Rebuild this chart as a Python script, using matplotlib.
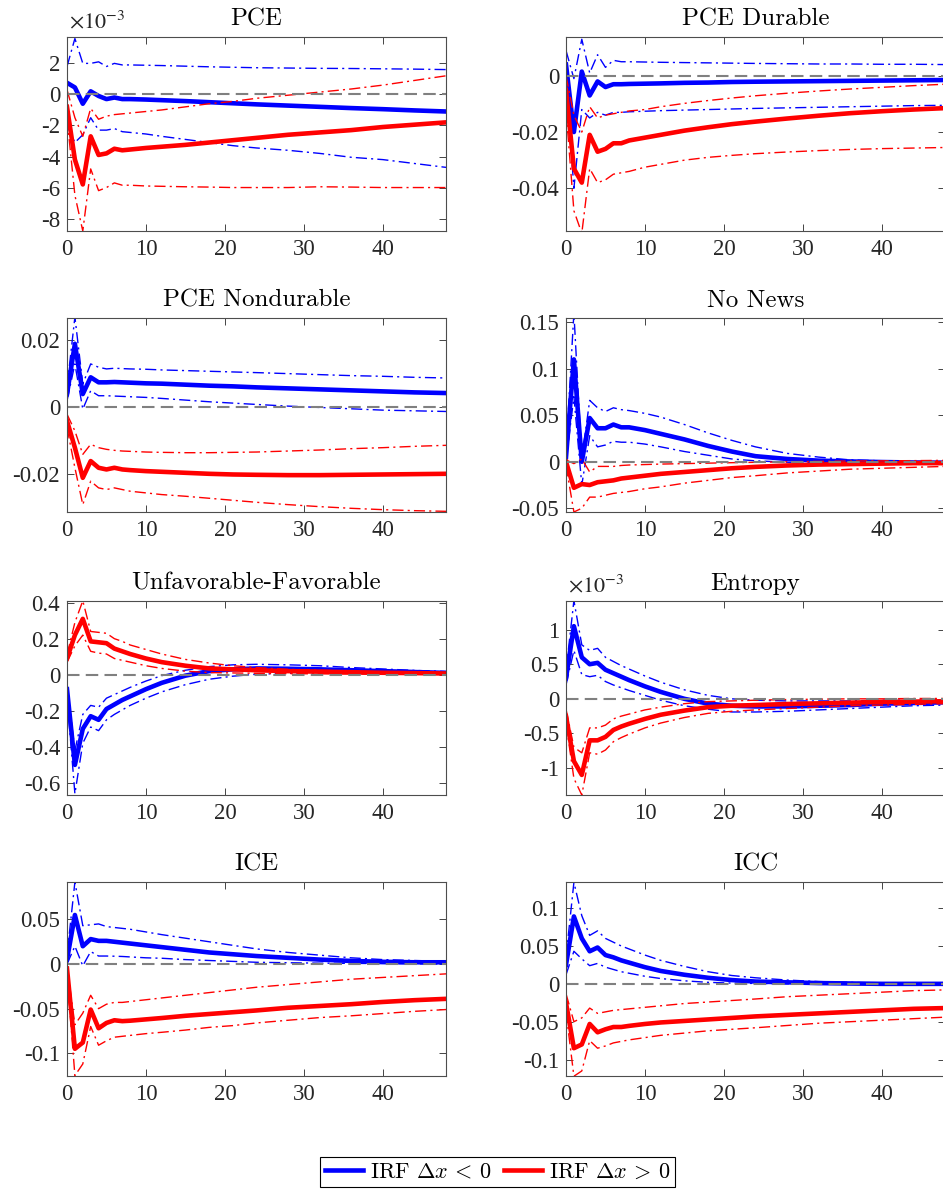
"""Impulse responses to negative and positive shocks, with confidence bands."""

import matplotlib
matplotlib.use("Agg")
import matplotlib.pyplot as plt
from matplotlib.font_manager import FontProperties
from matplotlib.lines import Line2D
from matplotlib.ticker import FuncFormatter

plt.rcParams["font.family"] = "Liberation Serif"
plt.rcParams["axes.unicode_minus"] = False
plt.rcParams["mathtext.fontset"] = "stix"

horizon = [0, 1, 2, 3, 4, 5, 6, 7, 8, 10, 12, 15, 18, 21, 24, 28, 32, 36, 40, 44, 48]

# PCE (units of 1e-3)
pce_neg = [0.75, 0.45, -0.6, 0.2, -0.1, -0.3, -0.2, -0.3, -0.3, -0.33, -0.37, -0.43, -0.5,
           -0.57, -0.64, -0.72, -0.8, -0.88, -0.95, -1.03, -1.1]
pce_neg_hi = [1.8, 3.6, 2.0, 2.0, 2.1, 1.8, 2.0, 1.9, 1.9, 1.88, 1.86, 1.82, 1.78, 1.75,
              1.72, 1.7, 1.68, 1.67, 1.65, 1.63, 1.6]
pce_neg_lo = [-2.0, -3.1, -2.6, -1.5, -2.3, -2.3, -2.2, -2.4, -2.45, -2.55, -2.7, -2.9, -3.1,
              -3.3, -3.45, -3.6, -3.8, -4.05, -4.2, -4.45, -4.7]
pce_pos = [-0.8, -4.2, -5.8, -2.7, -3.9, -3.8, -3.5, -3.6, -3.55, -3.45, -3.37, -3.25, -3.1,
           -2.95, -2.8, -2.6, -2.45, -2.3, -2.1, -1.95, -1.8]
pce_pos_hi = [0.3, -1.5, -2.7, -0.9, -1.6, -1.4, -1.3, -1.25, -1.2, -1.1, -1.0, -0.8, -0.6,
              -0.45, -0.25, -0.05, 0.15, 0.35, 0.6, 0.9, 1.2]
pce_pos_lo = [-1.5, -6.5, -8.8, -4.8, -6.2, -6.0, -5.7, -5.85, -5.85, -5.9, -5.92, -5.95,
              -5.97, -6.0, -6.0, -6.0, -5.95, -5.97, -6.0, -6.0, -6.0]

# PCE Durable
dur_neg = [0.004, -0.020, 0.0015, -0.007, -0.002, -0.004, -0.003, -0.003, -0.0029, -0.0028,
           -0.0027, -0.0025, -0.0024, -0.0022, -0.0021, -0.002, -0.0019, -0.0018, -0.0017,
           -0.0016, -0.0015]
dur_neg_hi = [0.009, -0.001, 0.013, 0.001, 0.0075, 0.003, 0.0055, 0.005, 0.005, 0.0049,
              0.0048, 0.0047, 0.0046, 0.0045, 0.0044, 0.0043, 0.0042, 0.0042, 0.0041, 0.0041,
              0.004]
dur_neg_lo = [-0.001, -0.040, -0.012, -0.015, -0.013, -0.014, -0.013, -0.013, -0.0128,
              -0.0126, -0.0124, -0.0122, -0.012, -0.0118, -0.0116, -0.0114, -0.0112, -0.011,
              -0.0108, -0.0106, -0.0105]
dur_pos = [-0.005, -0.033, -0.038, -0.021, -0.027, -0.026, -0.024, -0.024, -0.023, -0.022,
           -0.021, -0.0195, -0.0183, -0.0172, -0.0163, -0.0152, -0.0142, -0.0133, -0.0126,
           -0.012, -0.0115]
dur_pos_hi = [0.0, -0.014, -0.020, -0.011, -0.015, -0.014, -0.0135, -0.013, -0.0125, -0.012,
              -0.011, -0.0098, -0.0088, -0.0079, -0.0071, -0.0062, -0.0054, -0.0047, -0.0041,
              -0.0035, -0.003]
dur_pos_lo = [-0.012, -0.048, -0.056, -0.033, -0.038, -0.037, -0.035, -0.0345, -0.034,
              -0.0325, -0.0315, -0.030, -0.029, -0.0283, -0.0277, -0.0271, -0.0266, -0.0262,
              -0.0259, -0.0257, -0.0255]

# PCE Nondurable
nondur_neg = [0.004, 0.019, 0.004, 0.009, 0.0075, 0.0075, 0.0076, 0.0075, 0.0074, 0.0072,
              0.0071, 0.0068, 0.0065, 0.0063, 0.006, 0.0057, 0.0054, 0.0051, 0.0048, 0.0045,
              0.0043]
nondur_neg_hi = [0.006, 0.027, 0.007, 0.013, 0.012, 0.0115, 0.0117, 0.0116, 0.0115, 0.0114,
                 0.0112, 0.011, 0.0108, 0.0106, 0.0104, 0.0101, 0.0098, 0.0095, 0.0093, 0.009,
                 0.0088]
nondur_neg_lo = [0.002, 0.013, -0.0005, 0.005, 0.0035, 0.0035, 0.0034, 0.0033, 0.0032, 0.003,
                 0.0027, 0.0022, 0.0017, 0.0013, 0.0009, 0.0004, 0.0, -0.0004, -0.0008,
                 -0.001, -0.0012]
nondur_pos = [-0.004, -0.012, -0.021, -0.016, -0.018, -0.0185, -0.018, -0.0185, -0.0187,
              -0.019, -0.0192, -0.0195, -0.0198, -0.02, -0.0201, -0.0202, -0.0202, -0.0201,
              -0.02, -0.0199, -0.0198]
nondur_pos_hi = [-0.002, -0.007, -0.014, -0.011, -0.012, -0.0125, -0.0128, -0.013, -0.0131,
                 -0.0133, -0.0134, -0.0135, -0.0135, -0.0134, -0.0133, -0.013, -0.0127,
                 -0.0123, -0.012, -0.0116, -0.0113]
nondur_pos_lo = [-0.006, -0.018, -0.029, -0.022, -0.024, -0.0245, -0.024, -0.0245, -0.025,
                 -0.0255, -0.026, -0.0265, -0.0271, -0.0277, -0.0283, -0.029, -0.0296,
                 -0.0301, -0.0305, -0.0308, -0.031]

# No News
nonews_neg = [0.005, 0.11, 0.0, 0.047, 0.036, 0.036, 0.040, 0.037, 0.037, 0.034, 0.030,
              0.024, 0.017, 0.011, 0.006, 0.003, 0.0012, 0.0003, -0.0003, -0.0008, -0.001]
nonews_neg_hi = [0.01, 0.16, 0.003, 0.066, 0.058, 0.054, 0.058, 0.056, 0.055, 0.052, 0.048,
                 0.040, 0.031, 0.023, 0.016, 0.009, 0.005, 0.002, 0.001, 0.0, -0.001]
nonews_neg_lo = [0.0, 0.07, -0.025, 0.028, 0.016, 0.018, 0.022, 0.021, 0.021, 0.019, 0.016,
                 0.011, 0.007, 0.003, 0.001, -0.0005, -0.001, -0.0015, -0.002, -0.002, -0.0025]
nonews_pos = [0.0, -0.028, -0.024, -0.025, -0.022, -0.021, -0.020, -0.018, -0.017, -0.015,
              -0.013, -0.011, -0.009, -0.007, -0.0055, -0.004, -0.003, -0.0025, -0.002,
              -0.0015, -0.0015]
nonews_pos_hi = [0.002, -0.002, 0.003, -0.011, -0.005, -0.005, -0.005, -0.004, -0.0035,
                 -0.003, -0.0025, -0.002, -0.0015, -0.001, -0.0006, 0.0, 0.0004, 0.0008,
                 0.001, 0.0012, 0.0015]
nonews_pos_lo = [-0.004, -0.054, -0.050, -0.038, -0.038, -0.036, -0.034, -0.033, -0.032,
                 -0.029, -0.027, -0.023, -0.020, -0.017, -0.015, -0.012, -0.010, -0.008,
                 -0.007, -0.006, -0.005]

# Unfavorable-Favorable
unfav_neg = [-0.08, -0.50, -0.30, -0.23, -0.25, -0.19, -0.165, -0.14, -0.12, -0.08, -0.045,
             -0.005, 0.02, 0.03, 0.035, 0.033, 0.030, 0.025, 0.02, 0.015, 0.01]
unfav_neg_hi = [-0.06, -0.42, -0.22, -0.17, -0.18, -0.13, -0.11, -0.09, -0.07, -0.035,
                -0.005, 0.025, 0.045, 0.055, 0.058, 0.055, 0.05, 0.04, 0.032, 0.024, 0.018]
unfav_neg_lo = [-0.12, -0.66, -0.38, -0.29, -0.31, -0.25, -0.22, -0.195, -0.17, -0.13,
                -0.095, -0.055, -0.025, -0.008, 0.003, 0.008, 0.01, 0.008, 0.006, 0.004, 0.003]
unfav_pos = [0.09, 0.22, 0.31, 0.185, 0.18, 0.175, 0.145, 0.13, 0.115, 0.09, 0.07, 0.05,
             0.035, 0.03, 0.025, 0.02, 0.017, 0.014, 0.011, 0.009, 0.007]
unfav_pos_hi = [0.11, 0.29, 0.41, 0.24, 0.235, 0.23, 0.20, 0.185, 0.165, 0.14, 0.115, 0.085,
                0.065, 0.05, 0.04, 0.03, 0.025, 0.02, 0.016, 0.013, 0.01]
unfav_pos_lo = [0.07, 0.16, 0.22, 0.13, 0.12, 0.115, 0.09, 0.08, 0.07, 0.05, 0.035, 0.02,
                0.012, 0.01, 0.008, 0.006, 0.005, 0.004, 0.003, 0.003, 0.002]

# Entropy (units of 1e-3)
ent_neg = [0.3, 1.05, 0.6, 0.5, 0.52, 0.42, 0.37, 0.32, 0.27, 0.18, 0.1, 0.0, -0.07, -0.1,
           -0.11, -0.11, -0.1, -0.09, -0.07, -0.06, -0.05]
ent_neg_hi = [0.4, 1.42, 0.78, 0.7, 0.73, 0.6, 0.54, 0.48, 0.43, 0.33, 0.24, 0.13, 0.05, 0.0,
              -0.02, -0.03, -0.03, -0.03, -0.02, -0.02, -0.015]
ent_neg_lo = [0.2, 0.7, 0.35, 0.32, 0.34, 0.25, 0.2, 0.16, 0.12, 0.05, -0.02, -0.1, -0.15,
              -0.19, -0.19, -0.18, -0.16, -0.14, -0.12, -0.1, -0.09]
ent_pos = [-0.25, -0.9, -1.1, -0.6, -0.6, -0.55, -0.45, -0.4, -0.36, -0.29, -0.23, -0.17,
           -0.12, -0.1, -0.09, -0.075, -0.065, -0.055, -0.045, -0.04, -0.035]
ent_pos_hi = [-0.15, -0.7, -0.78, -0.42, -0.42, -0.38, -0.29, -0.25, -0.22, -0.16, -0.12,
              -0.07, -0.04, -0.03, -0.02, -0.01, -0.005, 0.0, 0.0, 0.005, 0.005]
ent_pos_lo = [-0.35, -1.15, -1.39, -0.78, -0.8, -0.74, -0.62, -0.56, -0.51, -0.42, -0.35,
              -0.27, -0.21, -0.18, -0.16, -0.14, -0.12, -0.1, -0.09, -0.08, -0.07]

# ICE
ice_neg = [0.005, 0.055, 0.02, 0.028, 0.026, 0.026, 0.025, 0.024, 0.023, 0.021, 0.019,
           0.016, 0.013, 0.011, 0.009, 0.007, 0.005, 0.0035, 0.0025, 0.002, 0.002]
ice_neg_hi = [0.01, 0.092, 0.043, 0.044, 0.045, 0.042, 0.041, 0.04, 0.039, 0.036, 0.033,
              0.029, 0.025, 0.021, 0.017, 0.013, 0.01, 0.007, 0.005, 0.004, 0.003]
ice_neg_lo = [0.0, 0.02, -0.002, 0.014, 0.009, 0.009, 0.0088, 0.0085, 0.008, 0.007, 0.0065,
              0.005, 0.004, 0.003, 0.002, 0.0015, 0.001, 0.0008, 0.0005, 0.0003, 0.0]
ice_pos = [-0.005, -0.095, -0.088, -0.051, -0.072, -0.066, -0.063, -0.064, -0.0635, -0.062,
           -0.0605, -0.058, -0.056, -0.054, -0.052, -0.049, -0.047, -0.045, -0.0425, -0.0405,
           -0.039]
ice_pos_hi = [-0.002, -0.068, -0.055, -0.035, -0.05, -0.045, -0.043, -0.043, -0.042, -0.04,
              -0.038, -0.035, -0.032, -0.029, -0.026, -0.023, -0.02, -0.017, -0.015, -0.013,
              -0.011]
ice_pos_lo = [-0.01, -0.125, -0.112, -0.07, -0.091, -0.086, -0.082, -0.081, -0.08, -0.078,
              -0.0765, -0.074, -0.071, -0.069, -0.066, -0.063, -0.06, -0.058, -0.0555, -0.053,
              -0.051]

# ICC
icc_neg = [0.025, 0.089, 0.06, 0.043, 0.048, 0.038, 0.035, 0.031, 0.028, 0.022, 0.017, 0.012,
           0.008, 0.005, 0.003, 0.002, 0.001, 0.0005, 0.0, 0.0, 0.0]
icc_neg_hi = [0.035, 0.134, 0.09, 0.064, 0.07, 0.06, 0.055, 0.05, 0.046, 0.038, 0.031, 0.023,
              0.016, 0.011, 0.008, 0.005, 0.003, 0.002, 0.001, 0.0005, 0.0]
icc_neg_lo = [0.012, 0.043, 0.033, 0.024, 0.027, 0.022, 0.019, 0.016, 0.014, 0.01, 0.007,
              0.004, 0.002, 0.001, 0.0005, 0.0, 0.0, 0.0, 0.0, 0.0, 0.0]
icc_pos = [-0.025, -0.085, -0.08, -0.053, -0.064, -0.06, -0.057, -0.057, -0.0555, -0.053,
           -0.051, -0.049, -0.047, -0.045, -0.043, -0.041, -0.039, -0.037, -0.035, -0.033,
           -0.032]
icc_pos_hi = [-0.013, -0.05, -0.045, -0.032, -0.039, -0.037, -0.035, -0.034, -0.033, -0.031,
              -0.029, -0.026, -0.024, -0.022, -0.02, -0.017, -0.015, -0.013, -0.011, -0.009,
              -0.008]
icc_pos_lo = [-0.037, -0.122, -0.115, -0.075, -0.085, -0.082, -0.078, -0.076, -0.074, -0.071,
              -0.068, -0.065, -0.062, -0.06, -0.058, -0.055, -0.052, -0.05, -0.048, -0.046,
              -0.044]

panels = [
    ("PCE", pce_neg, pce_neg_lo, pce_neg_hi, pce_pos, pce_pos_lo, pce_pos_hi,
     (-8.8, 3.7), [-8, -6, -4, -2, 0, 2], True),
    ("PCE Durable", dur_neg, dur_neg_lo, dur_neg_hi, dur_pos, dur_pos_lo, dur_pos_hi,
     (-0.0552, 0.0138), [-0.04, -0.02, 0], False),
    ("PCE Nondurable", nondur_neg, nondur_neg_lo, nondur_neg_hi, nondur_pos, nondur_pos_lo,
     nondur_pos_hi, (-0.0312, 0.0267), [-0.02, 0, 0.02], False),
    ("No News", nonews_neg, nonews_neg_lo, nonews_neg_hi, nonews_pos, nonews_pos_lo,
     nonews_pos_hi, (-0.054, 0.1545), [-0.05, 0, 0.05, 0.1, 0.15], False),
    ("Unfavorable-Favorable", unfav_neg, unfav_neg_lo, unfav_neg_hi, unfav_pos, unfav_pos_lo,
     unfav_pos_hi, (-0.667, 0.409), [-0.6, -0.4, -0.2, 0, 0.2, 0.4], False),
    ("Entropy", ent_neg, ent_neg_lo, ent_neg_hi, ent_pos, ent_pos_lo, ent_pos_hi,
     (-1.39, 1.414), [-1, -0.5, 0, 0.5, 1], True),
    ("ICE", ice_neg, ice_neg_lo, ice_neg_hi, ice_pos, ice_pos_lo, ice_pos_hi,
     (-0.1255, 0.092), [-0.1, -0.05, 0, 0.05], False),
    ("ICC", icc_neg, icc_neg_lo, icc_neg_hi, icc_pos, icc_pos_lo, icc_pos_hi,
     (-0.1217, 0.1345), [-0.1, -0.05, 0, 0.05, 0.1], False),
]

BLUE, RED, GREY = "#0000ff", "#ff0000", "#808080"
DASHDOT = (0, (8, 3, 1.5, 3))
W, H = 943, 1190

fig = plt.figure(figsize=(W / 100, H / 100), dpi=100)

col_left = [67, 566]
row_top = [37, 318, 601, 882]
ax_w, ax_h = 379, 194

tick_fmt = FuncFormatter(lambda v, _: f"{round(v, 8) + 0.0:g}")

for i, (title, neg, neg_lo, neg_hi, pos, pos_lo, pos_hi, ylim, yticks, sci) in enumerate(panels):
    r, c = divmod(i, 2)
    left = col_left[c] / W
    bottom = 1 - (row_top[r] + ax_h) / H
    ax = fig.add_axes([left, bottom, ax_w / W, ax_h / H])

    ax.plot(horizon, neg, color=BLUE, lw=3.3)
    ax.plot(horizon, neg_lo, color=BLUE, lw=1.0, linestyle=DASHDOT)
    ax.plot(horizon, neg_hi, color=BLUE, lw=1.0, linestyle=DASHDOT)
    ax.plot(horizon, pos, color=RED, lw=3.3)
    ax.plot(horizon, pos_lo, color=RED, lw=1.0, linestyle=DASHDOT)
    ax.plot(horizon, pos_hi, color=RED, lw=1.0, linestyle=DASHDOT)
    ax.axhline(0, color=GREY, lw=1.5, linestyle=(0, (6, 3)))

    ax.set_xlim(0, 48)
    ax.set_ylim(*ylim)
    ax.set_xticks([0, 10, 20, 30, 40])
    ax.set_yticks(yticks)
    ax.yaxis.set_major_formatter(tick_fmt)
    ax.tick_params(direction="in", top=True, right=True, length=5, width=0.6,
                   labelsize=16.5, color="#262626", labelcolor="#262626")
    ax.tick_params(axis="x", pad=6)
    ax.tick_params(axis="y", pad=5)
    for sp in ax.spines.values():
        sp.set_color("#4d4d4d")
        sp.set_linewidth(0.8)

    ax.set_title(title, fontfamily="cmr10", fontsize=18, pad=8)
    if sci:
        ax.text(0.005, 1.02, r"$\times10^{-3}$", transform=ax.transAxes,
                ha="left", va="bottom", fontsize=16, color="#262626")

handles = [Line2D([], [], color=BLUE, lw=3.3), Line2D([], [], color=RED, lw=3.3)]
leg = fig.legend(handles, [r"IRF $\Delta x\,<\,0$", r"IRF $\Delta x\,>\,0$"],
                 loc="center", bbox_to_anchor=(497.5 / W, 1 - 1172 / H), ncol=2,
                 prop=FontProperties(family="cmr10", size=16, math_fontfamily="cm"),
                 frameon=True, fancybox=False, edgecolor="black", framealpha=1,
                 handlelength=1.7, handletextpad=0.3, columnspacing=0.6,
                 borderpad=0.25, borderaxespad=0)
leg.get_frame().set_linewidth(0.8)

fig.savefig("out.png", dpi=100)
